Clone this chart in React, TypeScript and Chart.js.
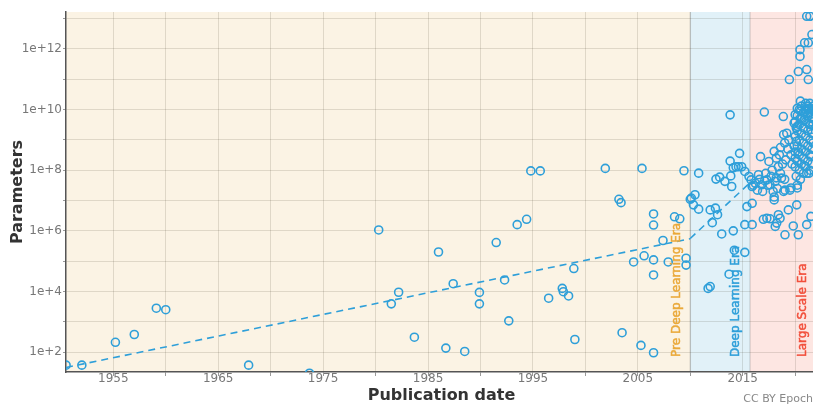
import { useEffect, useRef } from 'react';
import { Chart, registerables } from 'chart.js';

Chart.register(...registerables);

// ---- Data ----
const years: number[] = [
  // Pre Deep Learning Era
  1950.5, 1952.0, 1955.2, 1957.0, 1959.1, 1960.0, 1960.4, 1967.9, 1973.7,
  1980.3, 1981.5, 1982.2, 1983.7, 1986.0, 1986.7, 1987.4, 1988.5, 1989.9, 1989.9,
  1991.5, 1992.3, 1992.7, 1993.5, 1994.4, 1994.8, 1995.7, 1996.5, 1997.8, 1997.9,
  1998.4, 1998.9, 1999.0, 2000.5, 2001.9, 2003.2, 2003.4, 2003.5, 2004.6, 2005.3,
  2005.4, 2005.6, 2006.5, 2006.5, 2006.5, 2006.5, 2006.5, 2007.4, 2007.9, 2008.5,
  2009.0, 2009.4, 2009.6, 2009.6,
  // Deep Learning Era
  2010.0, 2010.1, 2010.45, 2010.3, 2010.8, 2010.8, 2011.7, 2011.9, 2011.9, 2012.4,
  2012.6, 2012.1, 2012.45, 2012.8, 2013.0, 2013.3, 2013.7, 2013.8, 2013.95, 2013.86,
  2013.8, 2014.1, 2014.1, 2014.2, 2014.36, 2014.6, 2014.9, 2014.7, 2015.2, 2015.2,
  2015.2, 2015.4, 2015.6,
  // Large Scale Era
  2015.9, 2015.9, 2015.9, 2015.8, 2016.2, 2016.8, 2016.7, 2017.06, 2017.3, 2017.5,
  2017.6, 2017.3, 2016.97, 2017.6, 2018.0, 2018.0, 2018.0, 2018.1, 2018.1, 2018.4,
  2018.56, 2018.24, 2018.7, 2018.87, 2018.9, 2019.03, 2019.03, 2019.2, 2019.35, 2019.45,
  2019.6, 2019.82, 2020.15, 2020.2, 2020.3, 2020.3, 2020.46, 2020.46, 2020.5, 2020.2,
  2020.0, 2020.5, 2020.9, 2021.25, 2021.1, 2021.4, 2021.6, 2021.1, 2021.25, 2021.0,
  2021.3, 2021.6, 2019.9, 2020.2, 2021.1, 2021.1, 2021.5,
  // band along the large-scale cluster (lower part)
  2016.0, 2016.4, 2016.9, 2017.4, 2017.9, 2018.3, 2018.9, 2019.5, 2020.2, 2016.6,
  2017.1, 2017.7, 2018.2, 2018.6, 2019.0, 2016.5, 2017.8, 2018.4, 2017.2,
  // middle part
  2018.2, 2018.5, 2018.8, 2019.1, 2019.3, 2019.6, 2019.9, 2019.0, 2018.6, 2019.4,
  2019.7, 2020.0, 2020.3, 2020.1,
  // dense cluster
  2020.0, 2020.0, 2020.0, 2020.0,
  2020.2, 2020.2, 2020.2, 2020.2,
  2020.4, 2020.4, 2020.4, 2020.4, 2020.4,
  2020.6, 2020.6, 2020.6, 2020.6, 2020.6,
  2020.8, 2020.8, 2020.8, 2020.8, 2020.8,
  2021.0, 2021.0, 2021.0, 2021.0, 2021.0, 2021.0,
  2021.2, 2021.2, 2021.2, 2021.2, 2021.2,
  2021.4, 2021.4, 2021.4, 2021.4, 2021.4, 2021.4,
  2021.6, 2021.6, 2021.6, 2021.6, 2021.6,
  2020.1, 2020.1, 2020.5, 2020.5, 2020.9, 2020.9, 2021.3, 2021.3, 2021.3,
  2021.5, 2021.5, 2021.5, 2021.7, 2021.7, 2021.7,
];

const params: number[] = [
  // Pre Deep Learning Era
  37, 37, 210, 380, 2800, 2500, 15, 37, 20,
  1.07e6, 3900, 9400, 310, 2.0e5, 135, 1.8e4, 105, 9300, 3900,
  4.1e5, 2.4e4, 1070, 1.6e6, 2.4e6, 9.5e7, 9.5e7, 6000, 1.26e4, 9800,
  7100, 5.7e4, 260, 15, 1.15e8, 1.1e7, 8.5e6, 435, 9.4e4, 166,
  1.15e8, 1.5e5, 3.6e6, 1.55e6, 1.1e5, 3.5e4, 95, 4.8e5, 9.4e4, 2.9e6,
  2.5e6, 9.6e7, 1.25e5, 7.4e4,
  // Deep Learning Era
  1.1e7, 1.2e7, 1.55e7, 7.2e6, 5.2e6, 8.0e7, 1.26e4, 1.45e4, 4.9e6, 5.6e6,
  3.4e6, 1.86e6, 5.1e7, 5.9e7, 7.9e5, 4.3e7, 3.7e4, 6.7e9, 2.9e7, 6.5e7,
  2.0e8, 1.0e6, 1.2e8, 2.3e5, 1.3e8, 1.3e8, 1.3e8, 3.6e8, 9.1e7, 1.95e5,
  1.6e6, 6.3e6, 6.2e7,
  // Large Scale Era
  2.9e7, 8.1e6, 1.6e6, 4.8e7, 3.7e7, 3.3e7, 2.8e8, 8.3e9, 4.8e7, 1.95e8,
  3.3e7, 2.6e6, 2.4e6, 2.5e6, 4.2e8, 1.05e7, 1.3e7, 4.3e7, 1.4e6, 3.4e6,
  2.6e6, 1.8e6, 5.5e7, 5.9e9, 1.5e9, 2.2e7, 7.4e5, 1.66e9, 4.9e6, 9.8e10,
  2.6e7, 1.45e6, 7.2e6, 2.6e7, 1.8e11, 7.4e5, 9.5e11, 5.7e11, 1.9e10, 1.1e10,
  6.8e9, 5.2e9, 1.6e12, 1.6e12, 1.2e13, 1.2e13, 3.0e12, 2.1e11, 9.8e10, 8.7e9,
  1.1e10, 9.8e9, 3.6e9, 2.8e9, 7.9e7, 1.6e6, 3.0e6,
  // band along the large-scale cluster (lower part)
  3.2e7, 2.2e7, 2.0e7, 3.2e7, 2.0e7, 2.5e7, 2.0e7, 2.2e7, 3.2e7, 5.0e7,
  4.5e7, 6.3e7, 5.6e7, 7.9e7, 5.0e7, 7.1e7, 1.0e8, 1.3e8, 7.9e7,
  // middle part
  2.5e8, 3.2e8, 1.6e8, 2.2e8, 5.0e8, 3.2e8, 6.3e8, 7.9e8, 5.6e8, 1.0e9,
  1.6e8, 2.5e8, 4.0e8, 8.9e8,
  // dense cluster
  1.3e8, 4.0e8, 1.3e9, 4.0e9,
  2.0e8, 6.3e8, 2.0e9, 6.3e9,
  1.0e8, 3.2e8, 1.0e9, 3.2e9, 1.0e10,
  1.6e8, 5.0e8, 1.6e9, 5.0e9, 1.3e10,
  7.9e7, 2.5e8, 7.9e8, 2.5e9, 7.9e9,
  1.3e8, 4.0e8, 1.3e9, 4.0e9, 1.0e10, 1.6e10,
  2.0e8, 6.3e8, 2.0e9, 6.3e9, 1.3e10,
  1.0e8, 3.2e8, 1.0e9, 3.2e9, 7.9e9, 1.6e10,
  1.6e8, 5.0e8, 1.6e9, 5.0e9, 1.1e10,
  6.3e7, 2.5e9, 5.0e7, 8.9e9, 1.4e8, 4.5e9, 7.9e7, 3.5e9, 1.0e10,
  2.8e8, 2.2e9, 7.1e9, 7.9e8, 3.2e9, 1.3e10,
];

// Trend lines
const preTrendYears = [1950.49, 2010];
const preTrendParams = [31, 5.5e5];
const dlTrendYears = [2010, 2015.7];
const dlTrendParams = [5.6e5, 3.9e7];

// Eras
const eraNames = ['Pre Deep Learning Era', 'Deep Learning Era', 'Large Scale Era'];
const eraStarts = [1950.49, 2010, 2015.7];
const eraEnds = [2010, 2015.7, 2021.7];
const eraFills = ['#fbf3e4', '#e1f1f8', '#fde6e2'];
const eraTextColors = ['#eaa93a', '#2e9fd9', '#f2503c'];

// Axes
const xMin = 1950.49;
const xMax = 2021.7;
const xTickValues = [1955, 1960, 1965, 1970, 1975, 1980, 1985, 1990, 1995, 2000, 2005, 2010, 2015, 2020];
const xTickLabels = ['1955', '', '1965', '', '1975', '', '1985', '', '1995', '', '2005', '', '2015', ''];
const yMin = 22;
const yMax = 1.66e13;
const yTickValues = [1e2, 1e3, 1e4, 1e5, 1e6, 1e7, 1e8, 1e9, 1e10, 1e11, 1e12, 1e13];
const yTickLabels = ['1e+2', '', '1e+4', '', '1e+6', '', '1e+8', '', '1e+10', '', '1e+12', ''];

const FONT = "'DejaVu Sans', sans-serif";
const BLUE = '#2e9fd9';
const GRID = 'rgba(60,50,30,0.14)';

export default function App() {
  const ref = useRef<HTMLCanvasElement | null>(null);

  useEffect(() => {
    if (!ref.current) return;

    const background = {
      id: 'eraBackground',
      beforeDraw(chart: any) {
        const { ctx, chartArea, scales } = chart;
        const xs = scales.x;
        ctx.save();
        for (let i = 0; i < eraStarts.length; i++) {
          const x0 = xs.getPixelForValue(eraStarts[i]);
          const x1 = xs.getPixelForValue(eraEnds[i]);
          ctx.fillStyle = eraFills[i];
          ctx.fillRect(x0, chartArea.top, x1 - x0, chartArea.bottom - chartArea.top);
        }
        ctx.strokeStyle = 'rgba(120,120,120,0.25)';
        ctx.lineWidth = 1.5;
        for (let i = 1; i < eraStarts.length; i++) {
          const x = xs.getPixelForValue(eraStarts[i]);
          ctx.beginPath();
          ctx.moveTo(x, chartArea.top);
          ctx.lineTo(x, chartArea.bottom);
          ctx.stroke();
        }
        ctx.restore();
      },
      afterDatasetsDraw(chart: any) {
        const { ctx, chartArea, scales } = chart;
        const xs = scales.x;
        const offsets = [13, 14, 10];
        ctx.save();
        ctx.font = `12px ${FONT}`;
        ctx.textAlign = 'left';
        ctx.textBaseline = 'middle';
        ctx.lineWidth = 0.5;
        for (let i = 0; i < eraNames.length; i++) {
          const x = xs.getPixelForValue(eraEnds[i]) - offsets[i];
          ctx.save();
          ctx.translate(x, chartArea.bottom - 15);
          ctx.rotate(-Math.PI / 2);
          ctx.fillStyle = eraTextColors[i];
          ctx.strokeStyle = eraTextColors[i];
          ctx.fillText(eraNames[i], 0, 0);
          ctx.strokeText(eraNames[i], 0, 0);
          ctx.restore();
        }
        ctx.restore();
      },
      afterDraw(chart: any) {
        const { ctx, chartArea, width, height } = chart;
        ctx.save();
        ctx.fillStyle = '#333333';
        ctx.font = `bold 16px ${FONT}`;
        ctx.textAlign = 'center';
        ctx.textBaseline = 'middle';
        ctx.fillText('Publication date', (chartArea.left + chartArea.right) / 2 + 2, height - 10);
        ctx.save();
        ctx.translate(18, (chartArea.top + chartArea.bottom) / 2);
        ctx.rotate(-Math.PI / 2);
        ctx.fillText('Parameters', 0, 0);
        ctx.restore();
        ctx.fillStyle = '#888888';
        ctx.font = `11px ${FONT}`;
        ctx.textAlign = 'right';
        ctx.fillText('CC BY Epoch', width, height - 7);
        ctx.restore();
      },
    };

    const chart = new Chart(ref.current, {
      type: 'scatter',
      data: {
        datasets: [
          {
            label: 'Systems',
            data: years.map((y, i) => ({ x: y, y: params[i] })),
            borderColor: BLUE,
            backgroundColor: 'rgba(0,0,0,0)',
            pointRadius: 4,
            pointBorderWidth: 1.6,
            showLine: false,
            clip: 0,
          } as any,
          {
            label: 'Pre DL trend',
            data: preTrendYears.map((y, i) => ({ x: y, y: preTrendParams[i] })),
            borderColor: BLUE,
            borderWidth: 1.6,
            borderDash: [7, 5],
            pointRadius: 0,
            showLine: true,
            clip: 0,
          } as any,
          {
            label: 'DL trend',
            data: dlTrendYears.map((y, i) => ({ x: y, y: dlTrendParams[i] })),
            borderColor: BLUE,
            borderWidth: 1.6,
            borderDash: [7, 5],
            pointRadius: 0,
            showLine: true,
            clip: 0,
          } as any,
        ],
      },
      options: {
        animation: false,
        responsive: false,
        maintainAspectRatio: false,
        layout: { autoPadding: false, padding: { top: 12, right: 0, left: 0, bottom: 0 } },
        plugins: { legend: { display: false }, tooltip: { enabled: false } },
        scales: {
          x: {
            type: 'linear',
            min: xMin,
            max: xMax,
            afterBuildTicks: (ax: any) => {
              ax.ticks = xTickValues.map((v) => ({ value: v }));
            },
            afterFit: (s: any) => {
              s.height = 34;
              s.paddingLeft = 0;
              s.paddingRight = 0;
            },
            ticks: {
              autoSkip: false,
              maxRotation: 0,
              minRotation: 0,
              padding: -4,
              color: '#777777',
              font: { family: FONT, size: 12 },
              callback: (v: any) => {
                const i = xTickValues.indexOf(Number(v));
                return i >= 0 ? xTickLabels[i] : '';
              },
            },
            grid: { color: GRID, lineWidth: 1, tickLength: 4, tickColor: '#999999' },
            border: { color: '#555555', width: 1.5 },
          },
          y: {
            type: 'logarithmic',
            min: yMin,
            max: yMax,
            afterBuildTicks: (ax: any) => {
              ax.ticks = yTickValues.map((v) => ({ value: v }));
            },
            afterFit: (s: any) => {
              s.width = 66;
              s.paddingTop = 0;
              s.paddingBottom = 0;
            },
            ticks: {
              autoSkip: false,
              padding: 1,
              color: '#777777',
              font: { family: FONT, size: 12 },
              callback: (v: any) => {
                const i = yTickValues.indexOf(Number(v));
                return i >= 0 ? yTickLabels[i] : '';
              },
            },
            grid: { color: GRID, lineWidth: 1, tickLength: 3, tickColor: '#999999' },
            border: { color: '#555555', width: 1.5 },
          },
        },
      },
      plugins: [background],
    } as any);

    return () => chart.destroy();
  }, []);

  return (
    <div style={{ position: 'absolute', left: 0, top: 0, width: 813, height: 406, background: '#ffffff' }}>
      <canvas ref={ref} width={813} height={406} style={{ display: 'block', width: 813, height: 406 }} />
    </div>
  );
}
